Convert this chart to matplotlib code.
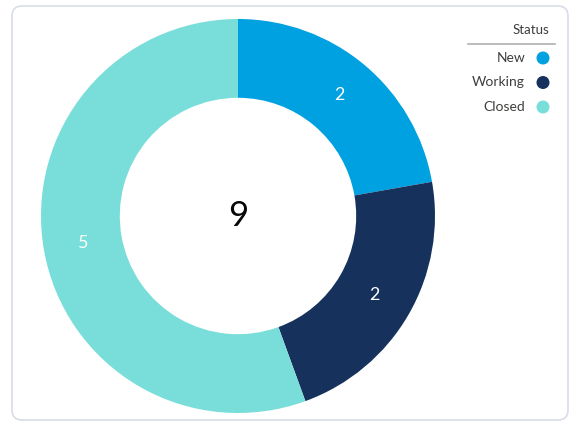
import matplotlib
matplotlib.use("Agg")
import matplotlib.pyplot as plt
from matplotlib.patches import FancyBboxPatch, Circle
import numpy as np

categories = ["New", "Working", "Closed"]
values = [2, 2, 5]
colors = ["#00A1E0", "#16325C", "#79DED9"]
legend_title = "Status"

W, H = 577, 424
fig = plt.figure(figsize=(W / 100, H / 100), dpi=100)
ax = fig.add_axes([0, 0, 1, 1])

def Y(y):
    return H - y

cx, cy, R = 238, Y(216), 197
ax.pie(values, colors=colors, startangle=90, counterclock=False,
       center=(cx, cy), radius=R, frame=True,
       wedgeprops=dict(width=R * 0.4, edgecolor="none"))
ax.set_xlim(0, W)
ax.set_ylim(0, H)
ax.set_aspect("equal")
ax.axis("off")

# card border
card = FancyBboxPatch((12, Y(420)), 556, 414, boxstyle="round,pad=0,rounding_size=10",
                      facecolor="none", edgecolor="#d8dde6", linewidth=1.2, zorder=0)
ax.add_patch(card)

total = sum(values)
start = 90.0
lab_r = R * 0.8
for v in values:
    ang = start - 360 * v / total / 2
    start -= 360 * v / total
    x = cx + lab_r * np.cos(np.radians(ang))
    y = cy + lab_r * np.sin(np.radians(ang))
    ax.text(x, y, str(v), color="white", fontsize=13, ha="center", va="center",
            family="Lato")

ax.text(cx, cy, str(total), fontsize=25, ha="center", va="center", color="#080707",
        family="Lato")

# legend
ax.text(549, Y(30), legend_title, fontsize=9.5, ha="right", va="center", color="#3e3e3c",
        family="Lato")
ax.plot([468, 555], [Y(44), Y(44)], color="#b0b0b0", linewidth=1.2)
for i, (c, col) in enumerate(zip(categories, colors)):
    yy = Y(58 + 24.5 * i)
    ax.text(525, yy, c, fontsize=10, ha="right", va="center", color="#3e3e3c", family="Lato")
    ax.add_patch(Circle((543, yy), 6.5, facecolor=col, edgecolor="none"))

fig.savefig("out.png", dpi=100)
